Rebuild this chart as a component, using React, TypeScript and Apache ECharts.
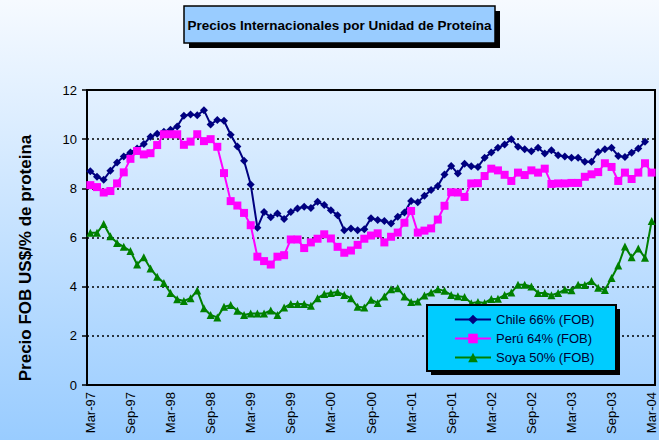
import React, { useEffect, useRef } from "react";
import * as echarts from "echarts";

const monthNames = ["Jan", "Feb", "Mar", "Apr", "May", "Jun", "Jul", "Aug", "Sep", "Oct", "Nov", "Dec"];
const startYear = 1997;
const startMonth = 2; // March
const monthCount = 85; // Mar-97 .. Mar-04
const months: string[] = [];
for (let k = 0; k < monthCount; k++) {
  const m = (startMonth + k) % 12;
  const y = startYear + Math.floor((startMonth + k) / 12);
  months.push(monthNames[m] + "-" + String(y % 100).padStart(2, "0"));
}

const seriesNames = ["Chile 66% (FOB)", "Perú 64% (FOB)", "Soya 50% (FOB)"];

const chile = [
  8.7, 8.47, 8.35, 8.72, 9.05, 9.3, 9.46, 9.62, 9.8, 10.1, 10.22, 10.3,
  10.38, 10.52, 10.95, 11.0, 10.97, 11.18, 10.6, 10.78, 10.75, 10.18, 9.7, 9.12,
  8.16, 6.4, 7.04, 6.82, 6.98, 6.75, 7.04, 7.18, 7.25, 7.2, 7.45, 7.32,
  7.11, 6.91, 6.3, 6.37, 6.3, 6.34, 6.78, 6.71, 6.67, 6.57, 6.84, 7.02,
  7.48, 7.43, 7.7, 7.93, 8.1, 8.56, 8.91, 8.6, 9.0, 8.9, 8.87, 9.24,
  9.46, 9.65, 9.78, 10.0, 9.69, 9.59, 9.51, 9.65, 9.42, 9.55, 9.35, 9.3,
  9.24, 9.24, 9.08, 9.08, 9.48, 9.59, 9.65, 9.32, 9.27, 9.45, 9.62, 9.9,
];

const peru = [
  8.13, 8.05, 7.83, 7.89, 8.2, 8.65, 9.2, 9.52, 9.38, 9.43, 9.76, 10.2,
  10.2, 10.2, 9.77, 9.9, 10.2, 9.92, 10.0, 9.69, 8.62, 7.48, 7.3, 7.0,
  6.5, 5.22, 5.04, 4.9, 5.22, 5.28, 5.92, 5.92, 5.57, 5.8, 5.95, 6.13,
  5.96, 5.62, 5.38, 5.47, 5.7, 5.95, 6.08, 6.17, 5.8, 6.03, 6.2, 6.6,
  7.08, 6.2, 6.28, 6.37, 6.73, 7.29, 7.84, 7.83, 7.65, 8.2, 8.21, 8.5,
  8.8, 8.73, 8.55, 8.3, 8.64, 8.54, 8.73, 8.64, 8.8, 8.18, 8.2, 8.2,
  8.22, 8.22, 8.47, 8.57, 8.66, 9.02, 8.87, 8.3, 8.64, 8.38, 8.64, 9.02,
  8.64,
];

const soya = [
  6.19, 6.19, 6.55, 6.05, 5.78, 5.62, 5.45, 4.9, 5.2, 4.74, 4.4, 4.15,
  3.74, 3.49, 3.42, 3.53, 3.84, 3.12, 2.85, 2.75, 3.18, 3.25, 3.02, 2.85,
  2.91, 2.91, 2.91, 3.03, 2.85, 3.15, 3.3, 3.3, 3.3, 3.22, 3.53, 3.7,
  3.74, 3.78, 3.66, 3.53, 3.18, 3.15, 3.47, 3.34, 3.6, 3.9, 3.94, 3.6,
  3.38, 3.4, 3.64, 3.76, 3.9, 3.83, 3.66, 3.61, 3.58, 3.33, 3.38, 3.34,
  3.5, 3.51, 3.66, 3.76, 4.08, 4.08, 4.01, 3.74, 3.74, 3.65, 3.74, 3.88,
  3.85, 4.08, 4.07, 4.23, 3.96, 3.86, 4.35, 4.86, 5.63, 5.2, 5.55, 5.18,
  6.67,
];

const FONT = '"Liberation Sans", Arial, Helvetica, sans-serif';

export default function App() {
  const ref = useRef<HTMLDivElement>(null);

  useEffect(() => {
    if (!ref.current) return;
    const chart = echarts.init(ref.current, undefined, { renderer: "svg" });
    const option: any = {
      animation: false,
      backgroundColor: new echarts.graphic.LinearGradient(0, 0, 0, 1, [
        { offset: 0, color: "#F6FAFF" },
        { offset: 1, color: "#99CCFF" },
      ]),
      grid: {
        left: 87,
        right: 4,
        top: 90,
        bottom: 55,
        show: true,
        borderColor: "#000",
        borderWidth: 2,
        backgroundColor: "transparent",
      },
      xAxis: {
        type: "category",
        data: months,
        boundaryGap: true,
        axisLine: { lineStyle: { color: "#000", width: 2 } },
        axisTick: { interval: 5, length: 5, lineStyle: { color: "#000", width: 1.5 } },
        axisLabel: {
          interval: 5,
          rotate: 90,
          fontSize: 13,
          color: "#000",
          fontFamily: FONT,
          margin: 7,
        },
        splitLine: { show: false },
      },
      yAxis: {
        type: "value",
        min: 0,
        max: 12,
        interval: 2,
        axisLine: { show: true, lineStyle: { color: "#000", width: 2 } },
        axisTick: { show: true, length: 5, lineStyle: { color: "#000", width: 1.5 } },
        axisLabel: { fontSize: 13, color: "#000", fontFamily: FONT, margin: 10 },
        splitLine: { show: true, lineStyle: { color: "#000", type: [2, 3], width: 1.5 } },
      },
      legend: {
        orient: "vertical",
        left: 454,
        top: 313,
        padding: 0,
        itemWidth: 36,
        itemHeight: 12,
        itemGap: 6,
        z: 6,
        textStyle: { fontSize: 13, color: "#000033", fontFamily: FONT },
        data: seriesNames,
      },
      series: [
        {
          name: seriesNames[0],
          type: "line",
          data: chile,
          symbol: "diamond",
          symbolSize: 8,
          showAllSymbol: true,
          color: "#000080",
          lineStyle: { width: 2, color: "#000080" },
          itemStyle: { color: "#000080" },
        },
        {
          name: seriesNames[1],
          type: "line",
          data: peru,
          symbol: "rect",
          symbolSize: 8,
          showAllSymbol: true,
          color: "#FF00FF",
          lineStyle: { width: 2, color: "#FF00FF" },
          itemStyle: { color: "#FF00FF" },
        },
        {
          name: seriesNames[2],
          type: "line",
          data: soya,
          symbol: "triangle",
          symbolSize: 8,
          showAllSymbol: true,
          color: "#008000",
          lineStyle: { width: 2, color: "#008000" },
          itemStyle: { color: "#008000" },
        },
      ],
      graphic: [
        {
          type: "rect",
          z: 10,
          shape: { x: 189, y: 11, width: 311, height: 37 },
          style: { fill: "#000" },
        },
        {
          type: "rect",
          z: 11,
          shape: { x: 184, y: 6, width: 311, height: 37 },
          style: { fill: "#99CCFF", stroke: "#000", lineWidth: 1.5 },
        },
        {
          type: "text",
          z: 12,
          x: 339.5,
          y: 25,
          style: {
            text: "Precios Internacionales por Unidad de Proteína",
            font: "bold 13.5px " + FONT,
            fill: "#000",
            textAlign: "center",
            textVerticalAlign: "middle",
          },
        },
        {
          type: "text",
          z: 12,
          x: 25,
          y: 258,
          rotation: Math.PI / 2,
          style: {
            text: "Precio FOB US$/% de proteina",
            font: "bold 17px " + FONT,
            fill: "#000",
            textAlign: "center",
            textVerticalAlign: "middle",
          },
        },
        {
          type: "rect",
          z: 3,
          shape: { x: 431, y: 309, width: 189, height: 66 },
          style: { fill: "#000" },
        },
        {
          type: "rect",
          z: 4,
          shape: { x: 427, y: 305, width: 189, height: 66 },
          style: { fill: "#00CCFF", stroke: "#000", lineWidth: 2 },
        },
      ],
    };
    chart.setOption(option);
    return () => chart.dispose();
  }, []);

  return (
    <div
      ref={ref}
      style={{ position: "fixed", left: 0, top: 0, width: 659, height: 440 }}
    />
  );
}
